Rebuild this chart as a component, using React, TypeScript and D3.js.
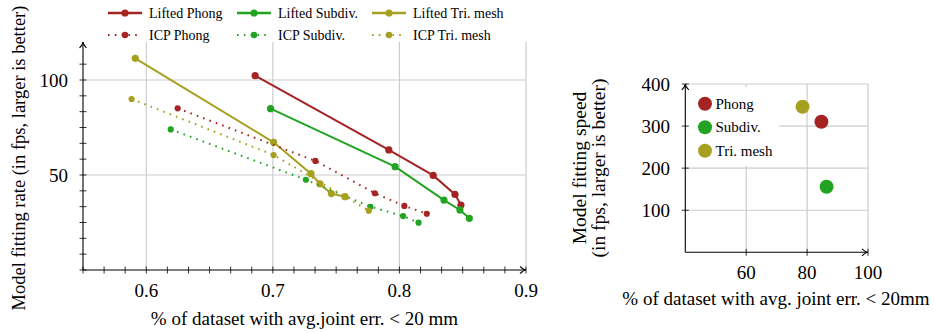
import * as d3 from "d3";

type Pt = [number, number];

// left chart: fps vs accuracy
const liftedPhong: Pt[] = [[0.686, 102.3], [0.7916, 63.2], [0.8267, 49.8], [0.8439, 39.8], [0.8486, 34.2]];
const liftedSubdiv: Pt[] = [[0.6982, 84.9], [0.7966, 54.4], [0.8352, 36.8], [0.8478, 31.6], [0.8552, 27.2]];
const liftedTri: Pt[] = [[0.5913, 111.4], [0.7006, 67.2], [0.7301, 50.7], [0.7372, 45.3], [0.7462, 40.2], [0.757, 38.6]];
const icpPhong: Pt[] = [[0.6248, 85.1], [0.7336, 57.4], [0.7806, 40.4], [0.8039, 33.7], [0.8216, 29.6]];
const icpSubdiv: Pt[] = [[0.6193, 74.0], [0.7261, 47.5], [0.7771, 33.3], [0.8029, 28.4], [0.8151, 24.9]];
const icpTri: Pt[] = [[0.5884, 90.0], [0.7006, 60.5], [0.757, 38.6], [0.7758, 31.2]];

const leftXTicks = [0.6, 0.7, 0.8, 0.9];
const leftYTicks = [50, 100];

// right chart: speed vs accuracy
const speedNames = ["Phong", "Subdiv.", "Tri. mesh"];
const speedAcc = [84.7, 86.4, 78.5];
const speedFps = [310.4, 155.9, 346];
const rightXTicks = [60, 80, 100];
const rightYTicks = [100, 200, 300, 400];

const RED = "#a52323";
const GREEN = "#22a422";
const OLIVE = "#a6a020";
const GRID = "#cccccc";
const FONT = "'Liberation Serif', 'Times New Roman', serif";

const series = [
  { name: "Lifted Phong", data: liftedPhong, color: RED, dotted: false },
  { name: "Lifted Subdiv.", data: liftedSubdiv, color: GREEN, dotted: false },
  { name: "Lifted Tri. mesh", data: liftedTri, color: OLIVE, dotted: false },
  { name: "ICP Phong", data: icpPhong, color: RED, dotted: true },
  { name: "ICP Subdiv.", data: icpSubdiv, color: GREEN, dotted: true },
  { name: "ICP Tri. mesh", data: icpTri, color: OLIVE, dotted: true },
];
const speedColors = [RED, GREEN, OLIVE];

const Arrow = ({ x, y, dir }: { x: number; y: number; dir: "up" | "right" }) => {
  const d =
    dir === "up"
      ? `M${x - 3.5},${y + 6} Q${x},${y + 2} ${x},${y} Q${x},${y + 2} ${x + 3.5},${y + 6}`
      : `M${x - 6},${y - 3.5} Q${x - 2},${y} ${x},${y} Q${x - 2},${y} ${x - 6},${y + 3.5}`;
  return <path d={d} fill="none" stroke="#000" strokeWidth={1.1} />;
};

const App = () => {
  const x = d3.scaleLinear().domain([0.55, 0.9]).range([83, 526]);
  const y = d3.scaleLinear().domain([0, 120]).range([270, 42]);
  const line = d3
    .line<Pt>()
    .x((d) => x(d[0]))
    .y((d) => y(d[1]));

  const xMinor = d3.range(0, 22).map((k) => 0.55 + k / 60);
  const yMinor = d3.range(0, 14).map((k) => (k * 25) / 3);

  const xr = d3.scaleLinear().domain([40, 100]).range([685.3, 868]);
  const yr = d3.scaleLinear().domain([0, 400]).range([252.3, 84]);

  const [x0, x1] = x.range();
  const [y0, y1] = y.range();
  const [rx0, rx1] = xr.range();
  const [ry0, ry1] = yr.range();

  return (
    <svg width={934} height={333} style={{ position: "absolute", left: 0, top: 0, background: "#fff" }} fontFamily={FONT}>
      {/* legend on top */}
      {series.map((s, i) => {
        const col = i % 3;
        const row = Math.floor(i / 3);
        const lx = [108, 237, 372][col];
        const ly = row === 0 ? 13 : 35;
        return (
          <g key={s.name}>
            <line
              x1={lx}
              x2={lx + 34}
              y1={ly}
              y2={ly}
              stroke={s.color}
              strokeWidth={s.dotted ? 2 : 2.5}
              strokeDasharray={s.dotted ? "1.6 5.2" : undefined}
            />
            <circle cx={lx + 17} cy={ly} r={s.dotted ? 3.2 : 3.6} fill={s.color} />
            <text x={lx + 41} y={ly + 5} fontSize={14}>
              {s.name}
            </text>
          </g>
        );
      })}

      {/* left chart grid */}
      {leftXTicks.map((t) => (
        <line key={t} x1={x(t)} x2={x(t)} y1={y1} y2={y0} stroke={GRID} strokeWidth={1.2} />
      ))}
      {leftYTicks.map((t) => (
        <line key={t} x1={x0} x2={x1} y1={y(t)} y2={y(t)} stroke={GRID} strokeWidth={1.2} />
      ))}

      {/* series */}
      {series.map((s) => (
        <g key={s.name}>
          <path
            d={line(s.data) ?? ""}
            fill="none"
            stroke={s.color}
            strokeWidth={2}
            strokeDasharray={s.dotted ? "1.6 5.2" : undefined}
          />
          {s.data.map((d, j) => (
            <circle key={j} cx={x(d[0])} cy={y(d[1])} r={s.dotted ? 3.1 : 3.6} fill={s.color} />
          ))}
        </g>
      ))}

      {/* left axes */}
      <line x1={x0} x2={x1} y1={y0} y2={y0} stroke="#000" strokeWidth={1.1} />
      <line x1={x0} x2={x0} y1={y0} y2={y1} stroke="#000" strokeWidth={1.1} />
      <Arrow x={x1} y={y0} dir="right" />
      <Arrow x={x0} y={y1} dir="up" />
      {xMinor.map((t, i) => (
        <line key={i} x1={x(t)} x2={x(t)} y1={y0 - 3.5} y2={y0 + 3.5} stroke="#000" strokeWidth={0.8} />
      ))}
      {yMinor.map((t, i) => (
        <line key={i} x1={x0 - 3.5} x2={x0 + 3.5} y1={y(t)} y2={y(t)} stroke="#000" strokeWidth={0.8} />
      ))}
      {leftXTicks.map((t) => (
        <text key={t} x={x(t)} y={297} fontSize={19} textAnchor="middle">
          {t.toFixed(1)}
        </text>
      ))}
      {leftYTicks.map((t) => (
        <text key={t} x={68} y={y(t) + 6.5} fontSize={19} textAnchor="end">
          {t}
        </text>
      ))}
      <text x={(x0 + x1) / 2} y={325} fontSize={19} textAnchor="middle">
        % of dataset with avg.joint err. {"<"} 20 mm
      </text>
      <text transform="translate(25,158) rotate(-90)" fontSize={18.5} textAnchor="middle">
        Model fitting rate (in fps, larger is better)
      </text>

      {/* right chart grid */}
      {rightXTicks.map((t) => (
        <line key={t} x1={xr(t)} x2={xr(t)} y1={ry1} y2={ry0} stroke={GRID} strokeWidth={1.2} />
      ))}
      {rightYTicks.map((t) => (
        <line key={t} x1={rx0} x2={rx1} y1={yr(t)} y2={yr(t)} stroke={GRID} strokeWidth={1.2} />
      ))}

      {/* right legend box */}
      <rect x={rx0 + 1} y={ry1 + 3} width={93} height={79} fill="#fff" />
      {speedNames.map((n, i) => (
        <g key={n}>
          <circle cx={705} cy={103.7 + i * 23.5} r={7} fill={speedColors[i]} />
          <text x={715.5} y={108.5 + i * 23.5} fontSize={15}>
            {n}
          </text>
        </g>
      ))}

      {/* right points */}
      {speedNames.map((n, i) => (
        <circle key={n} cx={xr(speedAcc[i])} cy={yr(speedFps[i])} r={7} fill={speedColors[i]} />
      ))}

      {/* right axes */}
      <line x1={rx0} x2={rx1} y1={ry0} y2={ry0} stroke="#000" strokeWidth={1.1} />
      <line x1={rx0} x2={rx0} y1={ry0} y2={ry1} stroke="#000" strokeWidth={1.1} />
      <Arrow x={rx1} y={ry0} dir="right" />
      <Arrow x={rx0} y={ry1} dir="up" />
      {rightXTicks.map((t) => (
        <g key={t}>
          <line x1={xr(t)} x2={xr(t)} y1={ry0 - 3.5} y2={ry0 + 3.5} stroke="#000" strokeWidth={0.8} />
          <text x={xr(t)} y={279} fontSize={19} textAnchor="middle">
            {t}
          </text>
        </g>
      ))}
      {rightYTicks.map((t) => (
        <g key={t}>
          <line x1={rx0 - 3.5} x2={rx0 + 3.5} y1={yr(t)} y2={yr(t)} stroke="#000" strokeWidth={0.8} />
          <text x={670} y={yr(t) + 6.5} fontSize={19} textAnchor="end">
            {t}
          </text>
        </g>
      ))}
      <text x={776} y={305} fontSize={19} textAnchor="middle">
        % of dataset with avg. joint err. {"<"} 20mm
      </text>
      <text transform="translate(586,168) rotate(-90)" fontSize={19.5} textAnchor="middle">
        Model fitting speed
      </text>
      <text transform="translate(605,168) rotate(-90)" fontSize={19.5} textAnchor="middle">
        (in fps, larger is better)
      </text>
    </svg>
  );
};

export default App;
